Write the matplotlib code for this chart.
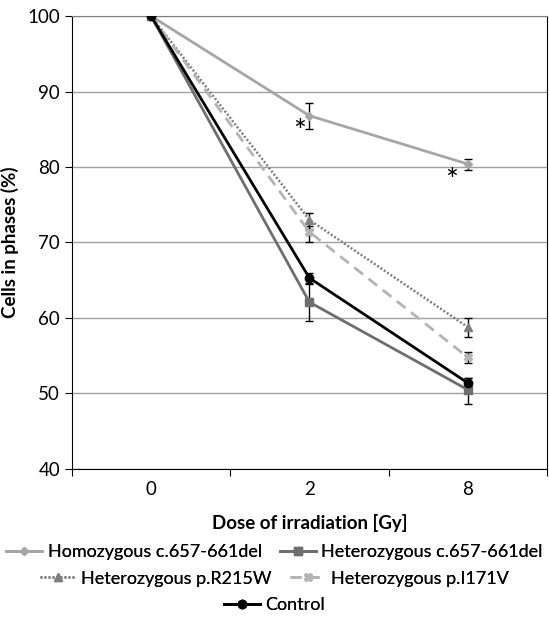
import numpy as np
import matplotlib.pyplot as plt

plt.rcParams['font.family'] = ['Lato', 'DejaVu Sans']

doses = ['0', '2', '8']

homo = [100, 86.8, 80.4]
homo_lo = [0, 1.8, 0.8]
homo_hi = [0, 1.7, 0.7]

het_del = [100, 62.1, 50.5]
het_del_lo = [0, 2.5, 1.9]
het_del_hi = [0, 2.5, 1.5]

r215w = [100, 73.0, 58.8]
r215w_lo = [0, 1.2, 1.3]
r215w_hi = [0, 0.9, 1.2]

i171v = [100, 71.4, 54.8]
i171v_lo = [0, 1.3, 0.8]
i171v_hi = [0, 0.8, 0.7]

control = [100, 65.3, 51.4]
control_lo = [0, 0.8, 0.7]
control_hi = [0, 0.7, 0.6]

fig = plt.figure(figsize=(5.49, 6.17), dpi=100)
ax = fig.add_axes([0.131, 0.24, 0.865, 0.734])

x = np.arange(len(doses))

series = [
    ('Homozygous c.657-661del', homo, homo_lo, homo_hi, '#a6a6a6', '-', 2, 'D', 4.5),
    ('Heterozygous c.657-661del', het_del, het_del_lo, het_del_hi, '#6e6e6e', '-', 2, 's', 6),
    ('Heterozygous p.R215W', r215w, r215w_lo, r215w_hi, '#7f7f7f', (0, (0.8, 0.8)), 1.8, '^', 6),
    ('Heterozygous p.I171V', i171v, i171v_lo, i171v_hi, '#b4b4b4', (0, (4, 2.5)), 2, 'X', 6),
    ('Control', control, control_lo, control_hi, 'black', '-', 2, 'o', 6),
]

handles = {}
for name, vals, lo, hi, col, ls, lw, mk, ms in series:
    ax.errorbar(x, vals, yerr=[lo, hi], fmt='none', ecolor='black',
                elinewidth=1, capsize=3, capthick=1, zorder=2)
    h, = ax.plot(x, vals, color=col, linestyle=ls, linewidth=lw,
                 marker=mk, markersize=ms, markerfacecolor=col,
                 markeredgecolor=col, zorder=3, label=name)
    handles[name] = h

# significance marks
ax.text(0.94, homo[1] - 2.2, '*', fontsize=22, ha='center', va='center')
ax.text(1.9, homo[2] - 2.2, '*', fontsize=22, ha='center', va='center')

ax.set_xlim(-0.5, 2.5)
ax.set_ylim(40, 100)
ax.set_yticks(range(40, 101, 10))
ax.yaxis.grid(True, color='#a0a0a0', linewidth=1)
ax.set_axisbelow(True)

ax.set_xticks([-0.5, 0.5, 1.5, 2.5])
ax.set_xticklabels([])
ax.set_xticks(x, minor=True)
ax.set_xticklabels(doses, minor=True)
ax.tick_params(axis='x', which='minor', length=0, labelsize=13.5, pad=9)
ax.tick_params(axis='x', which='major', length=5, direction='out')
ax.tick_params(axis='y', labelsize=13.5, length=5)

ax.spines['top'].set_color('#808080')
ax.spines['right'].set_color('black')

ax.set_xlabel('Dose of irradiation [Gy]', fontsize=13.5, fontweight='bold', labelpad=11)
ax.set_ylabel('Cells in phases (%)', fontsize=13.5, fontweight='bold', labelpad=6)

leg_kw = dict(frameon=False, fontsize=13, handlelength=2.0, handletextpad=0.3,
              columnspacing=1.0, loc='center')
rows = [
    (['Homozygous c.657-661del', 'Heterozygous c.657-661del'], 0.105),
    (['Heterozygous p.R215W', 'Heterozygous p.I171V'], 0.062),
    (['Control'], 0.019),
]
for names, yy in rows:
    leg = fig.legend([handles[n] for n in names], names, ncol=len(names),
                     bbox_to_anchor=(0.5, yy), **leg_kw)
    fig.add_artist(leg)

fig.savefig('out.png', dpi=100)
